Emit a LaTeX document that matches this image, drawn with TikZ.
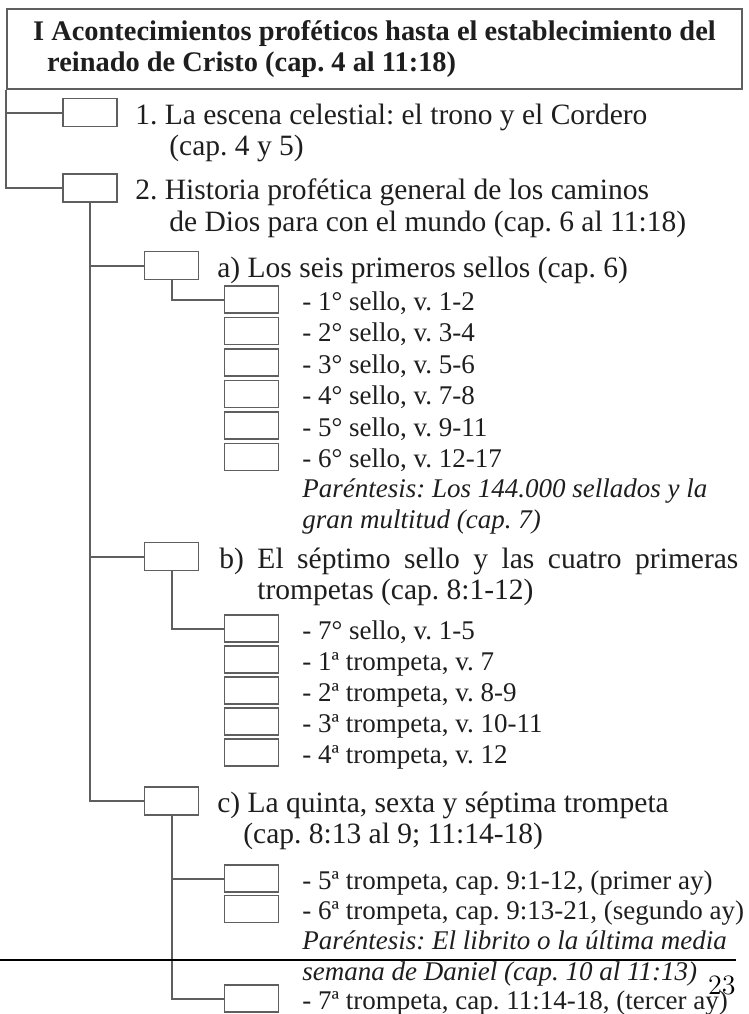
\documentclass[tikz,border=0pt]{standalone}
\usepackage{fontspec}
\usepackage{tikz}
\usetikzlibrary{positioning}
\newfontfamily\bookfont{Liberation Serif}
\definecolor{inkgray}{RGB}{30,30,30}
\definecolor{rulegray}{RGB}{95,95,95}
\frenchspacing

\begin{document}
\begin{tikzpicture}[
  x=0.5pt, y=-0.5pt,
  titlebox/.style={draw=rulegray, line width=1pt, minimum width=367.5pt, minimum height=40pt,
    inner sep=0pt, align=left, text=inkgray,
    font=\bookfont\fontsize{14.2pt}{15.5pt}\selectfont\bfseries},
  markbox/.style={draw=rulegray, line width=0.9pt, fill=white, minimum width=27pt,
    minimum height=14pt, inner sep=0pt},
  subbox/.style={markbox, minimum height=13.5pt},
  head/.style={anchor=base west, inner sep=0pt, text=inkgray,
    font=\bookfont\fontsize{14.75pt}{15.7pt}\selectfont},
  entry/.style={anchor=base west, inner sep=0pt, text=inkgray,
    font=\bookfont\fontsize{13.5pt}{15.7pt}\selectfont},
  note/.style={entry, font=\bookfont\fontsize{13.5pt}{15.7pt}\selectfont\itshape},
  link/.style={draw=rulegray, line width=1pt}
]
  \path[use as bounding box, clip] (0,0) rectangle (749,1014);

  % heading
  \node[titlebox] (title) at (374.5,49)
    {I Acontecimientos proféticos hasta el establecimiento del\\\hspace*{7pt}reinado de Cristo (cap. 4 al 11:18)};

  % first level
  \node[markbox] (box1) at (90,112.5) {};
  \node[head] (txt1) at (135,124) {1. La escena celestial: el trono y el Cordero};
  \node[head] (txt1b) at (169,155) {(cap. 4 y 5)};
  \node[markbox] (box2) at (90,188) {};
  \node[head] (txt2) at (135,199.5) {2. Historia profética general de los caminos};
  \node[head] (txt2b) at (169,231) {de Dios para con el mundo (cap. 6 al 11:18)};

  % a) seals
  \node[markbox] (boxa) at (171.5,265.5) {};
  \node[head] (txta) at (217,277) {a) Los seis primeros sellos (cap. 6)};
  \node[subbox] (sa1) at (251.5,299.5) {};
  \node[subbox] (sa2) at (251.5,331) {};
  \node[subbox] (sa3) at (251.5,362.5) {};
  \node[subbox] (sa4) at (251.5,394) {};
  \node[subbox] (sa5) at (251.5,425.5) {};
  \node[subbox] (sa6) at (251.5,457) {};
  \node[entry] (ea1) at (302,310) {- 1° sello, v. 1-2};
  \node[entry] (ea2) at (302,341.5) {- 2° sello, v. 3-4};
  \node[entry] (ea3) at (302,373) {- 3° sello, v. 5-6};
  \node[entry] (ea4) at (302,404.5) {- 4° sello, v. 7-8};
  \node[entry] (ea5) at (302,436) {- 5° sello, v. 9-11};
  \node[entry] (ea6) at (302,467.5) {- 6° sello, v. 12-17};
  \node[note] (pa1) at (302,497) {Paréntesis: Los 144.000 sellados y la};
  \node[note] (pa2) at (302,528) {gran multitud (cap. 7)};

  % b) seventh seal
  \node[markbox] (boxb) at (171.5,556.5) {};
  \node[head] (txtb) at (219,568) {\makebox[259.5pt][s]{b) El séptimo sello y las cuatro primeras}};
  \node[head] (txtbb) at (257,599) {trompetas (cap. 8:1-12)};
  \node[subbox] (sb1) at (251.5,628.5) {};
  \node[subbox] (sb2) at (251.5,659.5) {};
  \node[subbox] (sb3) at (251.5,690.5) {};
  \node[subbox] (sb4) at (251.5,721.5) {};
  \node[subbox] (sb5) at (251.5,752.5) {};
  \node[entry] (eb1) at (302,639) {- 7° sello, v. 1-5};
  \node[entry] (eb2) at (302,670) {- 1ª trompeta, v. 7};
  \node[entry] (eb3) at (302,701) {- 2ª trompeta, v. 8-9};
  \node[entry] (eb4) at (302,732) {- 3ª trompeta, v. 10-11};
  \node[entry] (eb5) at (302,763) {- 4ª trompeta, v. 12};

  % c) last trumpets
  \node[markbox] (boxc) at (171.5,801) {};
  \node[head] (txtc) at (217,812) {c) La quinta, sexta y séptima trompeta};
  \node[head] (txtcb) at (243,843) {(cap. 8:13 al 9; 11:14-18)};
  \node[subbox] (sc5) at (251.5,878.5) {};
  \node[subbox] (sc6) at (251.5,909) {};
  \node[subbox] (sc7) at (251.5,998.5) {};
  \node[entry] (ec5) at (302,889) {- 5ª trompeta, cap. 9:1-12, (primer ay)};
  \node[entry] (ec6) at (302,919.5) {- 6ª trompeta, cap. 9:13-21, (segundo ay)};
  \node[note] (pc1) at (302,949) {Paréntesis: El librito o la última media};
  \node[note] (pc2) at (302,980) {semana de Daniel (cap. 10 al 11:13)};
  \node[entry] (ec7) at (302,1009) {- 7ª trompeta, cap. 11:14-18, (tercer ay)};

  % tree lines
  \draw[link] (title.south west) |- (box1.west);
  \draw[link] (title.south west) |- (box2.west);
  \draw[link] (box2.south) |- (boxa.west);
  \draw[link] (box2.south) |- (boxb.west);
  \draw[link] (box2.south) |- (boxc.west);
  \draw[link] (boxa.south) |- (sa1.west);
  \draw[link] (boxb.south) |- (sb1.west);
  \draw[link] (boxc.south) |- (sc5.west);
  \draw[link] (boxc.south) |- (sc7.west);

  % page foot
  \draw[black, line width=0.6pt] (0,960) -- (736,960);
  \node[anchor=base east, inner sep=0pt, font=\fontsize{14pt}{16pt}\selectfont] (pagenum) at (736,994) {23};
\end{tikzpicture}
\end{document}
